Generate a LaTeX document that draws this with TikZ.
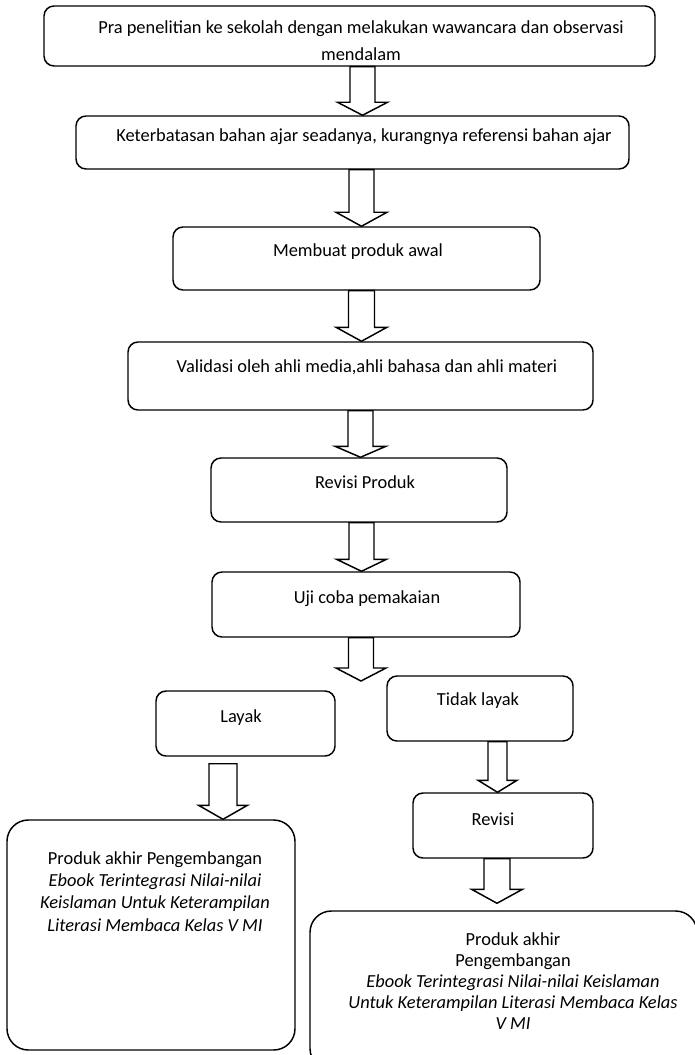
\documentclass[tikz,border=0pt]{standalone}
\usepackage{fontspec}
\setmainfont{Carlito}
\usetikzlibrary{calc,fit}
\tikzset{
  box/.style={draw=black, line width=1.1pt, rounded corners=7.5pt, inner sep=0pt, fill=white},
  bigbox/.style={box, rounded corners=16pt},
  txt/.style={inner sep=0pt, anchor=base, font=\fontsize{13.8pt}{16pt}\selectfont},
  mtxt/.style={inner sep=0pt, anchor=north, align=center},
  arrowline/.style={draw=black, line width=1.1pt, fill=white, line join=miter},
}
\newcommand\blockarrow[5]{%
  \coordinate (ba-s) at (#1);
  \coordinate (ba-t) at (#2);
  \draw[arrowline] ($(ba-s)+(-#3,0)$) -- ($(ba-t)+(-#3,-#5)$) -- ($(ba-t)+(-#4,-#5)$) -- (ba-t)
    -- ($(ba-t)+(#4,-#5)$) -- ($(ba-t)+(#3,-#5)$) -- ($(ba-s)+(#3,0)$) -- cycle;
}
\begin{document}
\begin{tikzpicture}[x=0.75pt, y=-0.75pt]
\useasboundingbox[fill=white] (0,0) rectangle (695,1055);

% boxes
\node[box, fit={(44,6) (655,66)}] (b1) {};
\node[box, fit={(76,116) (629,169)}] (b2) {};
\node[box, fit={(173,227) (540,290)}] (b3) {};
\node[box, fit={(128,342) (593,410)}] (b4) {};
\node[box, fit={(211,458) (507,522)}] (b5) {};
\node[box, fit={(212,572) (520,637)}] (b6) {};
\node[box, fit={(156,691) (335,756)}] (layak) {};
\node[box, fit={(387,676) (573,741)}] (tidak) {};
\node[box, fit={(413,793) (593,858)}] (revisi) {};
\node[bigbox, fit={(7,820) (295,1050)}] (lfinal) {};
\node[bigbox, fit={(310,911) (697,1070)}] (rfinal) {};

% texts
\node[mtxt, font=\fontsize{13.8pt}{20.3pt}\selectfont] (t1) at (361,20) {Pra penelitian ke sekolah dengan melakukan wawancara dan observasi\\mendalam};
\node[txt] (t2) at (364,142) {Keterbatasan bahan ajar seadanya, kurangnya referensi bahan ajar};
\node[txt] (t3) at (358,257) {Membuat produk awal};
\node[txt] (t4) at (367,372) {Validasi oleh ahli media,ahli bahasa dan ahli materi};
\node[txt] (t5) at (365,488) {Revisi Produk};
\node[txt] (t6) at (367,603) {Uji coba pemakaian};
\node[txt] (t7) at (241,722) {Layak};
\node[txt] (t8) at (478,705) {Tidak layak};
\node[txt] (t9) at (493,825) {Revisi};
\node[mtxt, font=\fontsize{13.8pt}{16.8pt}\selectfont] (t10) at (155,851) {Produk akhir Pengembangan\\\textit{Ebook Terintegrasi Nilai-nilai}\\\textit{Keislaman Untuk Keterampilan}\\\textit{Literasi Membaca Kelas V MI}};
\node[mtxt, font=\fontsize{13.8pt}{15.9pt}\selectfont] (t11) at (513,932) {Produk akhir\\Pengembangan\\\textit{Ebook Terintegrasi Nilai-nilai Keislaman}\\\textit{Untuk Keterampilan Literasi Membaca Kelas}\\\textit{V MI}};

% arrows
\coordinate (split) at (361,681);
\blockarrow{362.5,0 |- b1.south}{362.5,0 |- b2.north}{12.5}{25}{13}
\blockarrow{361.5,0 |- b2.south}{361.5,0 |- b3.north}{12.5}{25.5}{14}
\blockarrow{361.5,0 |- b3.south}{361.5,0 |- b4.north}{13}{25.5}{14}
\blockarrow{360.5,0 |- b4.south}{360.5,0 |- b5.north}{12.5}{25.5}{11}
\blockarrow{361.5,0 |- b5.south}{361.5,0 |- b6.north}{12.5}{25}{12}
\blockarrow{361,0 |- b6.south}{split}{12.5}{25}{13}
\blockarrow{$(223,0 |- layak.south)+(0,7)$}{223,0 |- lfinal.north}{14}{24.5}{14}
\blockarrow{497.5,0 |- tidak.south}{497.5,0 |- revisi.north}{9.5}{19.5}{12}
\blockarrow{497,0 |- revisi.south}{$(497,0 |- rfinal.north)+(0,-7)$}{13}{25.5}{14}
\end{tikzpicture}
\end{document}
